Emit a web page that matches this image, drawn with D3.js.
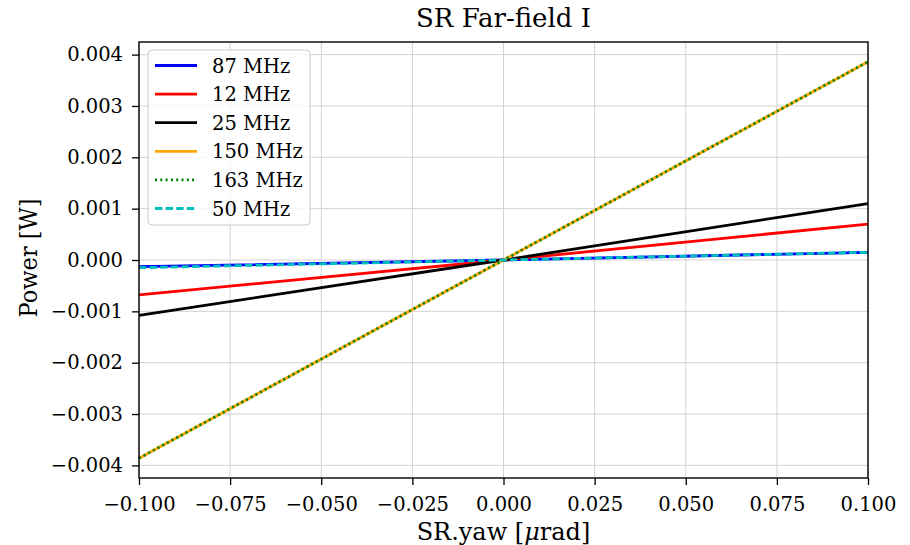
<!DOCTYPE html>
<html>
<head>
<meta charset="utf-8">
<script src="https://cdn.jsdelivr.net/npm/d3@7"></script>
<style>
    body { margin: 0; background: #fff; }
    svg text { font-family: "DejaVu Serif", serif; fill: #000; }
</style>
</head>
<body>
<div id="chart"></div>
<script>
// values
const xValues = [-0.1, 0.0, 0.1];
const seriesNames = ["87 MHz", "12 MHz", "25 MHz", "150 MHz", "163 MHz", "50 MHz"];
const seriesColors = ["#0000ff", "#ff0000", "#000000", "#ffa500", "#008000", "#00bfbf"];
const seriesDashes = [null, null, null, null, "2,3.3", "7.4,3.2"];
const y87 = [-0.00013, 0.0, 0.00015];
const y12 = [-0.00068, 0.0, 0.0007];
const y25 = [-0.00108, 0.0, 0.0011];
const y150 = [-0.00386, 0.0, 0.00386];
const y163 = [-0.00386, 0.0, 0.00386];
const y50 = [-0.00015, 0.0, 0.00015];
const xTicks = [-0.1, -0.075, -0.05, -0.025, 0, 0.025, 0.05, 0.075, 0.1];
const yTicks = [-0.004, -0.003, -0.002, -0.001, 0, 0.001, 0.002, 0.003, 0.004];

const allY = [y87, y12, y25, y150, y163, y50];
const series = seriesNames.map((name, i) => ({
    name: name,
    color: seriesColors[i],
    dash: seriesDashes[i],
    points: xValues.map((x, j) => ({x: x, y: allY[i][j]}))
}));

const width = 910, height = 545;
const margin = {top: 42, right: 42, bottom: 67, left: 139};
const innerW = width - margin.left - margin.right;
const innerH = height - margin.top - margin.bottom;

const minus = (s) => s.replace("-", "\u2212");

const svg = d3.select("#chart").append("svg")
    .attr("width", width)
    .attr("height", height);

const g = svg.append("g")
    .attr("transform", "translate(" + margin.left + "," + margin.top + ")");

// matplotlib-like 5% margin on y, tight on x
let yMin = d3.min(allY, (a) => d3.min(a));
let yMax = d3.max(allY, (a) => d3.max(a));
let pad = (yMax - yMin) * 0.05;

const xSc = d3.scaleLinear().domain(d3.extent(xValues)).range([0, innerW]);
const ySc = d3.scaleLinear().domain([yMin - pad, yMax + pad]).range([innerH, 0]);

// grid
g.append("g").selectAll("line").data(xTicks).join("line")
    .attr("x1", (d) => xSc(d)).attr("x2", (d) => xSc(d))
    .attr("y1", 0).attr("y2", innerH)
    .attr("stroke", "#d2d2d2").attr("stroke-width", 1);
g.append("g").selectAll("line").data(yTicks).join("line")
    .attr("y1", (d) => ySc(d)).attr("y2", (d) => ySc(d))
    .attr("x1", 0).attr("x2", innerW)
    .attr("stroke", "#d2d2d2").attr("stroke-width", 1);

// lines
let line = d3.line().x((d) => xSc(d.x)).y((d) => ySc(d.y));
g.append("g").selectAll("path").data(series).join("path")
    .attr("d", (d) => line(d.points))
    .attr("fill", "none")
    .attr("stroke", (d) => d.color)
    .attr("stroke-width", 2.8)
    .attr("stroke-dasharray", (d) => d.dash);

// axes
const xAxis = g.append("g")
    .attr("transform", "translate(0," + innerH + ")")
    .call(d3.axisBottom(xSc).tickValues(xTicks).tickSize(7).tickPadding(12)
        .tickFormat((d) => minus(d3.format(".3f")(d))));
const yAxis = g.append("g")
    .call(d3.axisLeft(ySc).tickValues(yTicks).tickSize(7).tickPadding(9)
        .tickFormat((d) => minus(d3.format(".3f")(d))));
[xAxis, yAxis].forEach((ax) => {
    ax.selectAll("text").style("font-size", "19.5px").style("font-family", "DejaVu Serif");
    ax.selectAll("line").attr("stroke", "#000").attr("stroke-width", 1.3);
    ax.select(".domain").remove();
});

// frame
g.append("rect")
    .attr("width", innerW).attr("height", innerH)
    .attr("fill", "none").attr("stroke", "#000").attr("stroke-width", 1.4);

// legend
const legend = g.append("g").attr("transform", "translate(9,8)");
legend.append("rect")
    .attr("width", 162).attr("height", 175).attr("rx", 4)
    .attr("fill", "#fff").attr("fill-opacity", 0.8)
    .attr("stroke", "#cccccc").attr("stroke-width", 1);
const rows = legend.selectAll("g.row").data(series).join("g")
    .attr("class", "row")
    .attr("transform", (d, i) => "translate(0," + (15.5 + i * 28.6) + ")");
rows.append("line")
    .attr("x1", 7).attr("x2", 49)
    .attr("stroke", (d) => d.color)
    .attr("stroke-width", 2.8)
    .attr("stroke-dasharray", (d) => d.dash);
rows.append("text")
    .attr("x", 64).attr("dy", "0.36em")
    .style("font-size", "19.5px")
    .text((d) => d.name);

// title and labels
svg.append("text")
    .attr("x", margin.left + innerW / 2).attr("y", 27)
    .attr("text-anchor", "middle")
    .style("font-size", "26px")
    .text("SR Far-field I");

const xl = svg.append("text")
    .attr("x", margin.left + innerW / 2).attr("y", 540)
    .attr("text-anchor", "middle")
    .style("font-size", "24px");
xl.append("tspan").text("SR.yaw [");
xl.append("tspan").style("font-style", "italic").text("\u03bc");
xl.append("tspan").text("rad]");

svg.append("text")
    .attr("transform", "translate(37,258) rotate(-90)")
    .attr("text-anchor", "middle")
    .attr("textLength", 119)
    .attr("lengthAdjust", "spacingAndGlyphs")
    .style("font-size", "24px")
    .text("Power [W]");
</script>
</body>
</html>
